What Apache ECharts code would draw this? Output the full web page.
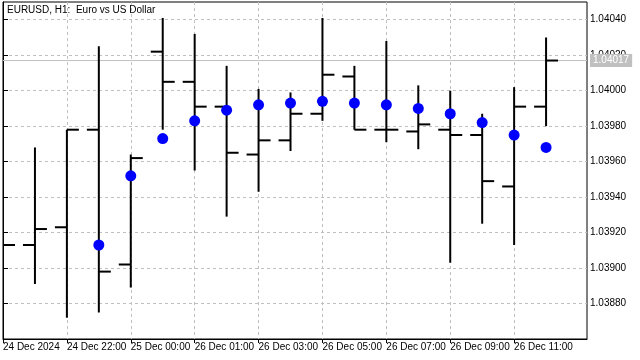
<!DOCTYPE html>
<html>
<head>
<meta charset="utf-8">
<script src="https://cdn.jsdelivr.net/npm/echarts@6/dist/echarts.min.js"></script>
<style>html,body{margin:0;padding:0;background:#fff}#c{width:640px;height:360px}</style>
</head>
<body>
<div id="c"></div>
<script>
// ---- data ----
const titleText = "EURUSD, H1:  Euro vs US Dollar";
const barTimes = ["24 Dec 20:00","24 Dec 21:00","24 Dec 22:00","24 Dec 23:00","25 Dec 00:00","26 Dec 00:00","26 Dec 01:00","26 Dec 02:00","26 Dec 03:00","26 Dec 04:00","26 Dec 05:00","26 Dec 06:00","26 Dec 07:00","26 Dec 08:00","26 Dec 09:00","26 Dec 10:00","26 Dec 11:00","26 Dec 12:00"];
const openVals  = [1.03912,1.03913,1.03923,1.03978,1.03902,1.04022,1.04005,1.03991,1.03964,1.03972,1.03987,1.04008,1.03978,1.03977,1.03978,1.03975,1.03946,1.03991];
const highVals  = [1.03930,1.03968,1.03978,1.04025,1.03964,1.04041,1.04032,1.04014,1.04001,1.03999,1.04041,1.04014,1.04028,1.04003,1.04000,1.03987,1.04002,1.04030];
const lowVals   = [1.03895,1.03891,1.03872,1.03875,1.03889,1.03978,1.03955,1.03929,1.03943,1.03966,1.03983,1.03978,1.03971,1.03967,1.03903,1.03925,1.03913,1.03980];
const closeVals = [1.03913,1.03922,1.03978,1.03898,1.03962,1.04005,1.03991,1.03965,1.03972,1.03987,1.04009,1.03978,1.03978,1.03981,1.03975,1.03949,1.03991,1.04017];
const dotVals   = [null,null,null,1.03913,1.03952,1.03973,1.03983,1.03989,1.03992,1.03993,1.03994,1.03993,1.03992,1.03990,1.03987,1.03982,1.03975,1.03968];
const xTickIdx   = [0,2,4,6,8,10,12,14,16];
const xTickLabels = ["24 Dec 2024","24 Dec 22:00","25 Dec 00:00","26 Dec 01:00","26 Dec 03:00","26 Dec 05:00","26 Dec 07:00","26 Dec 09:00","26 Dec 11:00"];
const yTicks = [1.0388,1.0390,1.0392,1.0394,1.0396,1.0398,1.0400,1.0402,1.0404];
const currentPrice = 1.04017;

// ---- build ----
const ohlc = barTimes.map((t,i)=>[i, openVals[i], highVals[i], lowVals[i], closeVals[i]]);
const dots = [];
dotVals.forEach((v,i)=>{ if(v!=null) dots.push([i,v]); });
const FONT = "Liberation Sans";
const X_MAX = 585/32;

const chart = echarts.init(document.getElementById('c'), null, {renderer:'canvas'});
chart.setOption({
  animation:false,
  backgroundColor:'#ffffff',
  title:{text:titleText,left:7,top:5,padding:0,textStyle:{fontFamily:FONT,fontSize:10,fontWeight:'normal',color:'#000'}},
  grid:{left:2,right:53,top:2,bottom:21,show:true,borderColor:'#000',borderWidth:1,backgroundColor:'transparent'},
  xAxis:{
    type:'value',min:0,max:X_MAX,interval:1,
    axisLine:{show:true,lineStyle:{color:'#000',width:1}},
    axisTick:{show:true,length:4,customValues:xTickIdx,lineStyle:{color:'#000'}},
    axisLabel:{show:true,customValues:xTickIdx,align:'left',margin:3,fontFamily:FONT,fontSize:10,color:'#000',
      formatter:(v)=>{const i=xTickIdx.indexOf(Math.round(v));return i>=0?xTickLabels[i]:'';}},
    splitLine:{show:true,lineStyle:{color:'#c0c0c0',type:[3,3],width:1}}
  },
  yAxis:{
    type:'value',position:'right',min:1.0386,max:1.0405,interval:0.0002,scale:true,
    axisLine:{show:true,lineStyle:{color:'#000',width:1}},
    axisTick:{show:true,length:5,customValues:yTicks,lineStyle:{color:'#000'}},
    axisLabel:{show:true,customValues:yTicks,margin:3,fontFamily:FONT,fontSize:10,color:'#000',
      formatter:(v)=>v.toFixed(5)},
    splitLine:{show:true,lineStyle:{color:'#c0c0c0',type:[3,3],width:1}}
  },
  series:[
    {
      type:'line',data:[[0,currentPrice],[X_MAX,currentPrice]],symbol:'none',silent:true,z:1,clip:false,
      lineStyle:{color:'#c0c0c0',width:1,type:'solid'},
      endLabel:{show:true,distance:3,formatter:()=>currentPrice.toFixed(5),
        backgroundColor:'#c0c0c0',color:'#fff',padding:[2,3,1,3],fontFamily:FONT,fontSize:10}
    },
    {
      type:'custom',clip:true,data:ohlc,encode:{x:0,y:[1,2,3,4]},
      renderItem:(params,api)=>{
        const x=api.value(0);
        const o=api.coord([x,api.value(1)]), h=api.coord([x,api.value(2)]), l=api.coord([x,api.value(3)]), c=api.coord([x,api.value(4)]);
        const w=api.size([1,0])[0]*0.375;
        const st={stroke:'#000',lineWidth:2};
        return {type:'group',children:[
          {type:'line',shape:{x1:h[0],y1:h[1],x2:l[0],y2:l[1]},style:st},
          {type:'line',shape:{x1:o[0]-w,y1:o[1],x2:o[0],y2:o[1]},style:st},
          {type:'line',shape:{x1:c[0],y1:c[1],x2:c[0]+w,y2:c[1]},style:st}
        ]};
      },
      z:3
    },
    {
      type:'scatter',data:dots,symbol:'circle',symbolSize:11,itemStyle:{color:'#0000ff',opacity:1},z:4,clip:true
    }
  ]
});
</script>
</body>
</html>
